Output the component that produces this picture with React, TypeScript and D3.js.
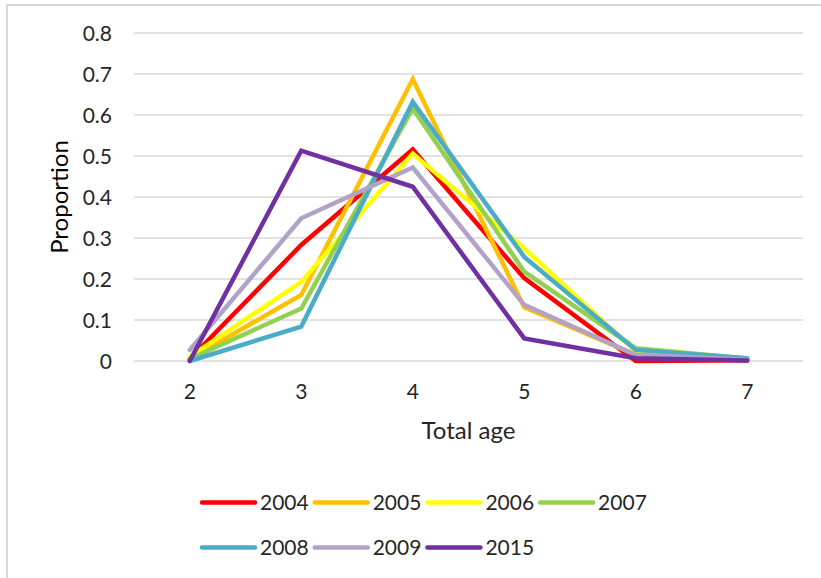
import React from "react";
import * as d3 from "d3";

const categories = ["2", "3", "4", "5", "6", "7"];
const yTicks = [0, 0.1, 0.2, 0.3, 0.4, 0.5, 0.6, 0.7, 0.8];

const s2004 = [0.005, 0.283, 0.516, 0.202, 0.0, 0.002];
const s2005 = [0.005, 0.161, 0.687, 0.131, 0.015, 0.002];
const s2006 = [0.01, 0.193, 0.506, 0.275, 0.023, 0.003];
const s2007 = [0.005, 0.128, 0.616, 0.218, 0.031, 0.006];
const s2008 = [0.0, 0.084, 0.632, 0.254, 0.027, 0.007];
const s2009 = [0.027, 0.348, 0.472, 0.137, 0.015, 0.003];
const s2015 = [0.0, 0.513, 0.425, 0.055, 0.007, 0.001];

const seriesNames = ["2004", "2005", "2006", "2007", "2008", "2009", "2015"];
const seriesValues = [s2004, s2005, s2006, s2007, s2008, s2009, s2015];
const seriesColors = ["#FF0000", "#FFC000", "#FFFF00", "#92D050", "#4BACC6", "#B3A2C7", "#7030A0"];

const W = 821;
const H = 578;
const FONT = "Lato, 'Open Sans', sans-serif";

export default function App() {
  const left = 134;
  const right = 803;
  const top = 33;
  const bottom = 361;

  const x = d3.scaleBand<string>().domain(categories).range([left, right]);
  const y = d3.scaleLinear().domain([0, 0.8]).range([bottom, top]);
  const cx = (c: string) => (x(c) as number) + x.bandwidth() / 2;

  const line = d3
    .line<number>()
    .x((_, i) => cx(categories[i]))
    .y((d) => y(d));

  const legendX0 = 202;
  const legendStep = 112.7;
  const legendRows = [510, 555];

  return (
    <svg
      width={W}
      height={H}
      style={{ position: "absolute", left: 0, top: 0, background: "#fff" }}
    >
      <rect x={7} y={5} width={W + 10} height={H + 10} fill="#fff" stroke="#D9D9D9" strokeWidth={2} />
      {yTicks.map((t) => (
        <g key={t}>
          <line x1={left} x2={right} y1={y(t)} y2={y(t)} stroke="#D9D9D9" strokeWidth={1.3} />
          <text
            x={112}
            y={y(t)}
            dy="0.36em"
            textAnchor="end"
            fontFamily={FONT}
            fontSize={21}
            fill="#262626"
          >
            {t === 0 ? "0" : t.toFixed(1)}
          </text>
        </g>
      ))}
      {categories.map((c) => (
        <text
          key={c}
          x={cx(c)}
          y={399}
          textAnchor="middle"
          fontFamily={FONT}
          fontSize={21}
          fill="#262626"
        >
          {c}
        </text>
      ))}
      <text
        x={(left + right) / 2}
        y={439}
        textAnchor="middle"
        fontFamily={FONT}
        fontSize={24}
        fill="#262626"
      >
        Total age
      </text>
      <text
        transform={`translate(68, ${(top + bottom) / 2}) rotate(-90)`}
        textAnchor="middle"
        fontFamily={FONT}
        fontSize={24}
        fill="#000"
      >
        Proportion
      </text>
      {seriesValues.map((vals, i) => (
        <path
          key={seriesNames[i]}
          d={line(vals) as string}
          fill="none"
          stroke={seriesColors[i]}
          strokeWidth={4.5}
          strokeLinejoin="miter"
          strokeMiterlimit={4}
          strokeLinecap="round"
        />
      ))}
      {seriesNames.map((name, i) => {
        const row = i < 4 ? 0 : 1;
        const col = i < 4 ? i : i - 4;
        const lx = legendX0 + col * legendStep;
        const ly = legendRows[row];
        return (
          <g key={name}>
            <line
              x1={lx}
              x2={lx + 53}
              y1={ly - 7.5}
              y2={ly - 7.5}
              stroke={seriesColors[i]}
              strokeWidth={4.5}
              strokeLinecap="round"
            />
            <text x={lx + 58} y={ly} fontFamily={FONT} fontSize={21} fill="#262626">
              {name}
            </text>
          </g>
        );
      })}
    </svg>
  );
}
